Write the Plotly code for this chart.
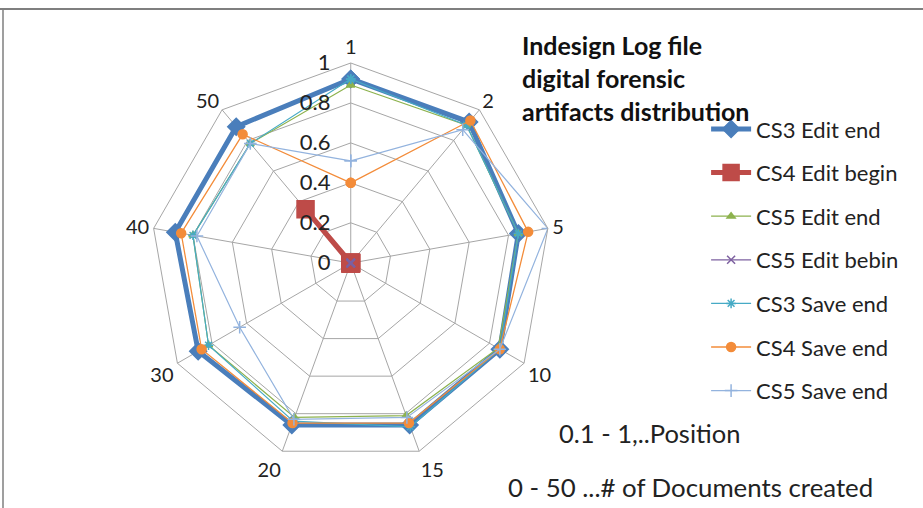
import plotly.graph_objects as go

categories = ["1", "2", "5", "10", "15", "20", "30", "40", "50"]

cs3_edit_end = [0.92, 0.92, 0.85, 0.86, 0.86, 0.86, 0.88, 0.89, 0.89]
cs4_edit_begin = [0, 0, 0, 0, 0, 0, 0, 0, 0.35]
cs5_edit_end = [0.89, 0.90, 0.85, 0.85, 0.81, 0.82, 0.82, 0.80, 0.78]
cs5_edit_bebin = [0, 0, 0, 0, 0, 0, 0, 0, 0]
cs3_save_end = [0.92, 0.90, 0.85, 0.86, 0.87, 0.84, 0.82, 0.80, 0.78]
cs4_save_end = [0.40, 0.93, 0.90, 0.86, 0.85, 0.85, 0.86, 0.86, 0.84]
cs5_save_end = [0.51, 0.87, 1.00, 0.86, 0.82, 0.83, 0.64, 0.78, 0.78]

radial_ticks = [0, 0.2, 0.4, 0.6, 0.8, 1]
radial_tick_text = ["0", "0.2", "0.4", "0.6", "0.8", "1"]

series = [
    ("CS3 Edit end", cs3_edit_end, "#4A7EBB", 5, "diamond", 13),
    ("CS4 Edit begin", cs4_edit_begin, "#BE4B48", 5, "square", 17),
    ("CS5 Edit end", cs5_edit_end, "#8DB24E", 1.2, "triangle-up", 7),
    ("CS5 Edit bebin", cs5_edit_bebin, "#7D60A0", 1.2, "x-thin-open", 8),
    ("CS3 Save end", cs3_save_end, "#46AAC5", 1.2, "asterisk-open", 8),
    ("CS4 Save end", cs4_save_end, "#F38C3A", 1.3, "circle", 9),
    ("CS5 Save end", cs5_save_end, "#93B3DE", 1.2, "cross-thin-open", 9),
]

FONT = "Lato, 'Open Sans', sans-serif"

fig = go.Figure()
for name, vals, color, lw, sym, ms in series:
    fig.add_trace(go.Scatterpolar(
        r=vals + vals[:1],
        theta=categories + categories[:1],
        name=name,
        legendgroup=name,
        mode="lines+markers",
        cliponaxis=True,
        line=dict(color=color, width=lw),
        marker=dict(symbol=sym, size=ms, color=color,
                    line=dict(color=color, width=1.5)),
    ))

fig.update_layout(
    width=923, height=508,
    margin=dict(l=0, r=0, t=0, b=0),
    paper_bgcolor="white",
    plot_bgcolor="white",
    font=dict(family=FONT, color="#222", size=17),
    polar=dict(
        domain=dict(x=[0.161, 0.599], y=[0.088, 0.876]),
        bgcolor="white",
        gridshape="linear",
        angularaxis=dict(
            direction="clockwise",
            rotation=90,
            type="category",
            showline=True,
            linecolor="#A6A6A6",
            linewidth=1,
            gridcolor="#A6A6A6",
            gridwidth=1,
            ticks="",
            tickfont=dict(size=20, family=FONT, color="#222"),
        ),
        radialaxis=dict(
            range=[-0.002, 1],
            tickvals=radial_ticks,
            ticktext=radial_tick_text,
            angle=90,
            tickangle=90,
            side="counterclockwise",
            showline=False,
            gridcolor="#A6A6A6",
            gridwidth=1,
            ticks="outside",
            ticklen=12,
            tickcolor="rgba(0,0,0,0)",
            tickfont=dict(size=22, family=FONT, color="#222"),
        ),
    ),
    legend=dict(
        x=0.765, y=0.787, xanchor="left", yanchor="top",
        font=dict(size=22, family=FONT, color="#222"),
        tracegroupgap=12,
        bgcolor="rgba(0,0,0,0)",
        itemwidth=40,
    ),
    showlegend=True,
)

title_lines = ["Indesign Log file", "digital forensic", "artifacts distribution"]
for i, t in enumerate(title_lines):
    fig.add_annotation(
        text="<b>%s</b>" % t, xref="paper", yref="paper",
        x=520 / 923, y=1 - (45 + 33 * i) / 508,
        xanchor="left", yanchor="middle", showarrow=False,
        font=dict(size=25, family=FONT, color="#111"),
    )

fig.add_annotation(text="0.1 - 1,..Position", xref="paper", yref="paper",
                   x=557 / 923, y=1 - 433 / 508, xanchor="left", yanchor="middle",
                   showarrow=False, font=dict(size=25.5, family=FONT, color="#222"))
fig.add_annotation(text="0 - 50 ...# of Documents created", xref="paper", yref="paper",
                   x=506 / 923, y=1 - 487 / 508, xanchor="left", yanchor="middle",
                   showarrow=False, font=dict(size=25.8, family=FONT, color="#222"))

fig.add_shape(type="line", xref="paper", yref="paper", x0=0, x1=1,
              y0=1 - 9 / 508, y1=1 - 9 / 508, line=dict(color="#7F7F7F", width=2))
fig.add_shape(type="line", xref="paper", yref="paper", x0=3 / 923, x1=3 / 923,
              y0=0, y1=1 - 9 / 508, line=dict(color="#7F7F7F", width=1.5))

fig.write_html("out.html", config={"displayModeBar": False},
               post_script="document.body.style.margin='0';document.body.style.overflow='hidden';")
